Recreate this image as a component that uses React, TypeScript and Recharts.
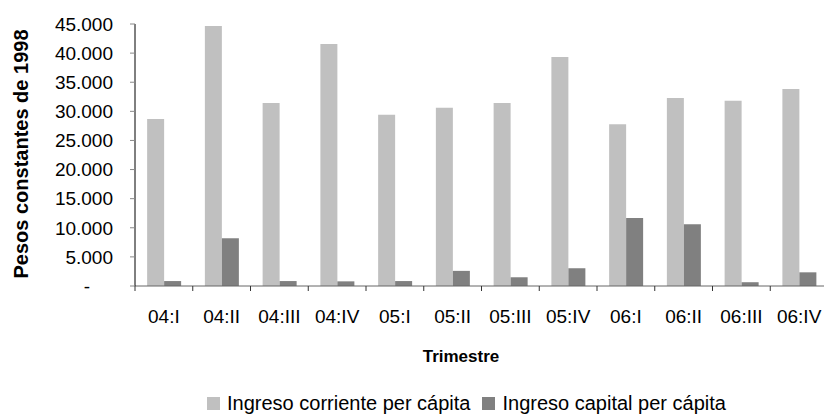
import React from 'react';
import { BarChart, Bar, XAxis, YAxis } from 'recharts';

// Trimestres 2004-2006
const quarters = ['04:I', '04:II', '04:III', '04:IV', '05:I', '05:II', '05:III', '05:IV', '06:I', '06:II', '06:III', '06:IV'];
const ingresoCorriente = [28700, 44650, 31450, 41550, 29400, 30600, 31450, 39350, 27800, 32300, 31800, 33850];
const ingresoCapital = [850, 8200, 850, 800, 850, 2600, 1500, 3050, 11700, 10600, 650, 2350];
const yTicks = [0, 5000, 10000, 15000, 20000, 25000, 30000, 35000, 40000, 45000];

const series = [
  { key: 'corriente', name: 'Ingreso corriente per cápita', color: '#c0c0c0' },
  { key: 'capital', name: 'Ingreso capital per cápita', color: '#808080' },
];

const data = quarters.map((q, i) => ({
  q,
  corriente: ingresoCorriente[i],
  capital: ingresoCapital[i],
}));

const FONT = '"Liberation Sans", Arial, sans-serif';
const W = 832;
const H = 414;

const fmt = (v: number) => v.toString().replace(/\B(?=(\d{3})+(?!\d))/g, '.');

const YTick = (props: any) => {
  const { x, y, payload } = props;
  const isZero = payload.value === 0;
  return (
    <text
      x={isZero ? x - 23 : x}
      y={y}
      dy="0.355em"
      textAnchor="end"
      fill="#000"
      fontSize={19}
      fontFamily={FONT}
    >
      {isZero ? '-' : fmt(payload.value)}
    </text>
  );
};

const XTick = (props: any) => {
  const { x, y, payload } = props;
  const half = payload && payload.offset ? payload.offset : 28.8;
  return (
    <g>
      <line x1={x - half} x2={x - half} y1={y} y2={y + 5} stroke="#333" />
      <text x={x} y={y + 37} textAnchor="middle" fill="#000" fontSize={19} fontFamily={FONT}>
        {payload.value}
      </text>
    </g>
  );
};

const YTitle = () => {
  const cy = 154;
  const cx = 28;
  return (
    <text
      x={cx}
      y={cy}
      transform={`rotate(-90, ${cx}, ${cy})`}
      textAnchor="middle"
      fontSize={20}
      fontWeight="bold"
      fill="#000"
      fontFamily={FONT}
    >
      Pesos constantes de 1998
    </text>
  );
};

const XTitle = () => (
  <text x={461} y={362} textAnchor="middle" fontSize={17} fontWeight="bold" fill="#000" fontFamily={FONT}>
    Trimestre
  </text>
);

export default function App() {
  return (
    <div style={{ position: 'fixed', left: 0, top: 0, width: 824, height: 414, overflow: 'hidden', background: '#fff', fontFamily: FONT }}>
      <BarChart
        width={W}
        height={H}
        data={data}
        margin={{ top: 24, right: 4, bottom: 0, left: 0 }}
        barCategoryGap="21%"
        barGap={0}
      >
        <XAxis
          dataKey="q"
          height={128}
          axisLine={{ stroke: '#666' }}
          tickLine={false}
          tickSize={0}
          tickMargin={0}
          interval={0}
          tick={<XTick />}
          label={<XTitle />}
        />
        <YAxis
          width={135}
          domain={[0, 45000]}
          ticks={yTicks}
          interval={0}
          axisLine={{ stroke: '#000' }}
          tickLine={{ stroke: '#888' }}
          tickSize={5}
          tickMargin={17}
          tick={<YTick />}
          label={<YTitle />}
        />
        {series.map((s) => (
          <Bar key={s.key} dataKey={s.key} name={s.name} fill={s.color} isAnimationActive={false} />
        ))}
      </BarChart>
      <div
        style={{
          position: 'absolute',
          left: 207,
          top: 393,
          display: 'flex',
          alignItems: 'center',
          fontSize: 20,
          lineHeight: '20px',
          color: '#000',
          whiteSpace: 'nowrap',
        }}
      >
        {series.map((s, i) => (
          <div key={s.key} style={{ display: 'flex', alignItems: 'center', marginRight: i === 0 ? 12 : 0 }}>
            <span style={{ display: 'inline-block', width: 13, height: 13, background: s.color, marginRight: 7 }} />
            <span>{s.name}</span>
          </div>
        ))}
      </div>
    </div>
  );
}
